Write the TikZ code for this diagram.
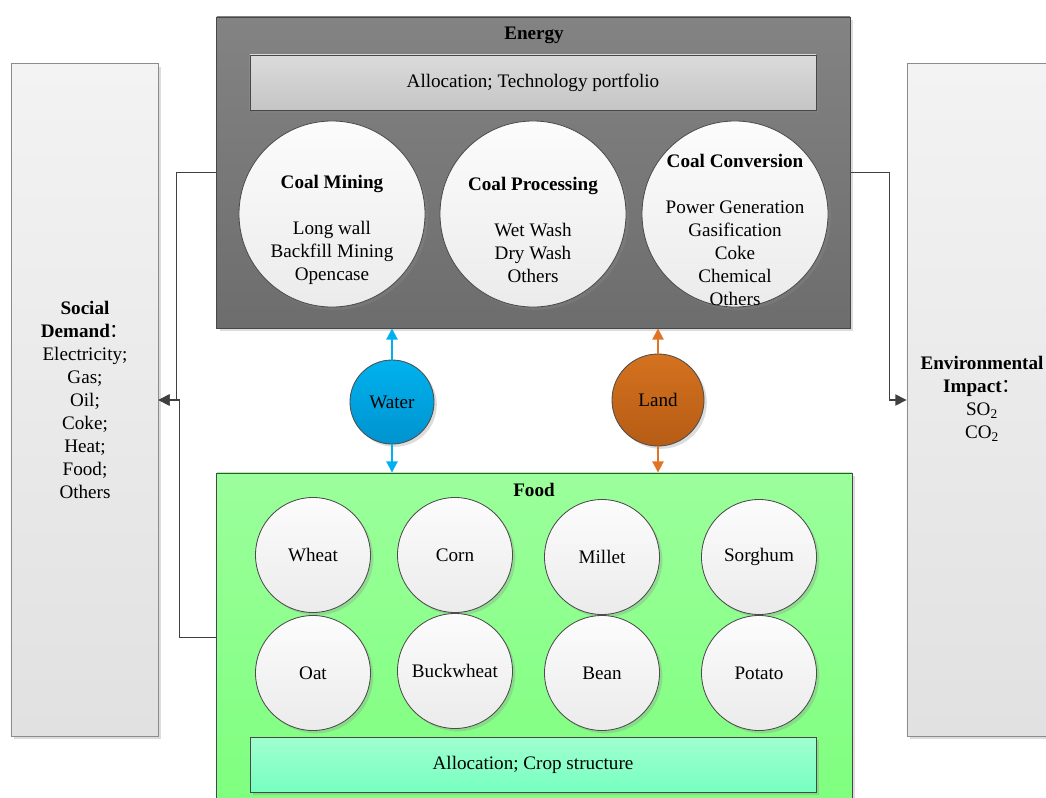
\documentclass[tikz,border=0pt]{standalone}
\usepackage{fontspec}
\setmainfont{Liberation Serif}
\newfontfamily\cjk{Noto Sans CJK SC}
\usetikzlibrary{shadows,arrows.meta}

\definecolor{egtop}{HTML}{838383}
\definecolor{egbot}{HTML}{6D6D6D}
\definecolor{bartop}{HTML}{DBDBDB}
\definecolor{barbot}{HTML}{C5C5C5}
\definecolor{sdtop}{HTML}{F3F3F3}
\definecolor{sdbot}{HTML}{E1E1E1}
\definecolor{fdtop}{HTML}{9BFF9B}
\definecolor{fdbot}{HTML}{7EFF7E}
\definecolor{crtop}{HTML}{A0FFCF}
\definecolor{crbot}{HTML}{77FFC0}
\definecolor{ctop}{HTML}{FCFCFC}
\definecolor{cbot}{HTML}{EBEBEB}
\definecolor{wtop}{HTML}{00B2EE}
\definecolor{wbot}{HTML}{0093CF}
\definecolor{ltop}{HTML}{D4721F}
\definecolor{lbot}{HTML}{B65C15}
\definecolor{wline}{HTML}{00B0F0}
\definecolor{lline}{HTML}{DE7424}

\newcommand{\fwcolon}{{\cjk\mdseries ：}}

\begin{document}
\begin{tikzpicture}[x=0.025cm,y=-0.025cm,font=\fontsize{13.6}{16.3}\selectfont,
    soft/.style={drop shadow={shadow xshift=2pt,shadow yshift=-2pt,opacity=0.3,fill=black!45}},
    panel/.style={draw=black!72,line width=0.6pt,inner sep=0,soft},
    side/.style={panel,draw=black!45,top color=sdtop,bottom color=sdbot,minimum height=16.8cm},
    bar/.style={panel,minimum width=14.15cm,minimum height=1.375cm},
    coal/.style={circle,draw=black!70,line width=0.6pt,top color=ctop,bottom color=cbot,minimum size=4.65cm,inner sep=0,soft},
    crop/.style={coal,minimum size=2.875cm},
    res/.style={circle,draw=black!70,line width=0.6pt,inner sep=0,soft},
    link/.style={draw=black!75,line width=1pt,-{Triangle[length=8pt,width=8pt]}},
    flow/.style={line width=1.4pt,-{Triangle[length=8pt,width=8pt]}}]
  \clip (0,0) rectangle (1046,797);

  \node[side,minimum width=3.675cm] (social) at (84.5,400) {};
  \node[align=center] (socialtxt) at (85,400)
    {\textbf{Social}\\ \textbf{Demand\fwcolon}\\ Electricity;\\ Gas;\\ Oil;\\ Coke;\\ Heat;\\ Food;\\ Others};
  \node[side,minimum width=3.825cm] (env) at (983.5,400) {};
  \node[align=center] (envtxt) at (982,399)
    {\textbf{Environmental}\\ \textbf{Impact\fwcolon}\\ SO\textsubscript{2}\\ CO\textsubscript{2}};

  \node[panel,top color=egtop,bottom color=egbot,minimum width=15.825cm,minimum height=7.775cm] (energy) at (533.5,172.5) {};
  \node[font=\fontsize{13.6}{16.3}\selectfont\bfseries] (energytitle) at (534,35) {Energy};
  \node[bar,top color=bartop,bottom color=barbot] (techbar) at (533,82.5) {Allocation; Technology portfolio};

  \node[coal] (mining) at (332,214) {};
  \node[coal] (processing) at (533,214) {};
  \node[coal] (conversion) at (735,214) {};
  \node[align=center] (miningtxt) at ([yshift=-0.4cm]mining.center)
    {\textbf{Coal Mining}\\[16.3pt] Long wall\\ Backfill Mining\\ Opencase};
  \node[align=center] (processingtxt) at ([yshift=-0.4cm]processing.center)
    {\textbf{Coal Processing}\\[16.3pt] Wet Wash\\ Dry Wash\\ Others};
  \node[align=center] (conversiontxt) at ([yshift=-0.4cm]conversion.center)
    {\textbf{Coal Conversion}\\[16.3pt] Power Generation\\ Gasification\\ Coke\\ Chemical\\ Others};

  \node[panel,top color=fdtop,bottom color=fdbot,minimum width=15.875cm,minimum height=8.425cm] (food) at (534.5,641.5) {};
  \node[font=\fontsize{13.6}{16.3}\selectfont\bfseries] (foodtitle) at (534,490) {Food};
  \foreach[count=\i] \x/\y/\t in {313/555/Wheat,455/555/Corn,602/557/Millet,759/557/Sorghum,
                                  313/673/Oat,455/671/Buckwheat,602/673/Bean,759/673/Potato} {
    \node[crop] (crop\i) at (\x,\y) {\t};
  }
  \node[bar,top color=crtop,bottom color=crbot] (cropbar) at (533,764.5) {Allocation; Crop structure};

  \node[res,top color=wtop,bottom color=wbot,minimum size=2.1cm] (water) at (392,402) {Water};
  \node[res,top color=ltop,bottom color=lbot,minimum size=2.3cm] (land) at (658,400) {Land};

  \draw[flow,wline] (water) -- (water |- energy.south);
  \draw[flow,wline] (water) -- (water |- food.north);
  \draw[flow,lline] (land) -- (land |- energy.south);
  \draw[flow,lline] (land) -- (land |- food.north);

  \draw[link] (energy.west) -- ++(-40,0) |- (social.east);
  \draw[link] (food.west) ++(0,-4) -- ++(-37,0) |- (social.east);
  \draw[link] (energy.east) -- ++(39,0) |- (env.west);
\end{tikzpicture}
\end{document}
